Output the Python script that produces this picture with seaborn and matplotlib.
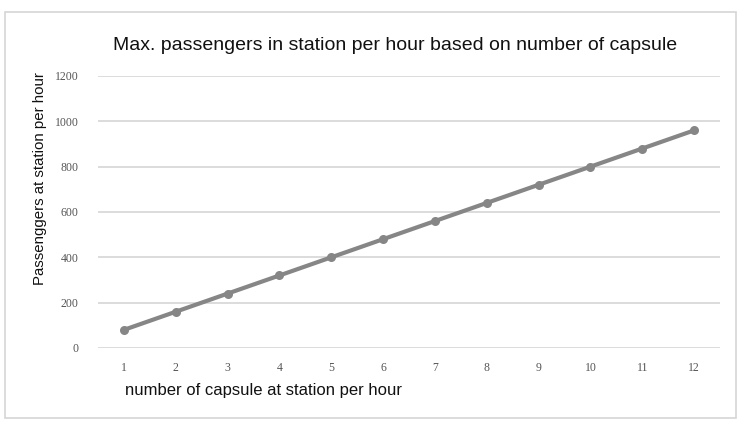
import matplotlib
matplotlib.use("Agg")
import matplotlib.pyplot as plt
from matplotlib.patches import Rectangle
import seaborn as sns
import pandas as pd

capsules = [1, 2, 3, 4, 5, 6, 7, 8, 9, 10, 11, 12]
passengers = [80, 160, 240, 320, 400, 480, 560, 640, 720, 800, 880, 960]
y_ticks = [0, 200, 400, 600, 800, 1000, 1200]

title = "Max. passengers in station per hour based on number of capsule"
x_label = "number of capsule at station per hour"
y_label = "Passenggers at station per hour"

sns.set_theme(style="white")
plt.rcParams["font.family"] = ["Liberation Sans", "DejaVu Sans"]

df = pd.DataFrame({"capsules": capsules, "passengers": passengers})

fig = plt.figure(figsize=(7.39, 4.21), dpi=100)
ax = fig.add_axes([0.1326, 0.1734, 0.8417, 0.6461])

# outer chart frame
fig.patches.append(Rectangle((5 / 739, 3 / 421), 731 / 739, 406 / 421,
                             transform=fig.transFigure, fill=False,
                             edgecolor="#d6d6d6", linewidth=1.2))

sns.lineplot(data=df, x="capsules", y="passengers", ax=ax, color="#868686",
             linewidth=3.0, marker="o", markersize=6.5, markeredgewidth=0,
             zorder=3)

ax.set_xlim(0.5, 12.5)
ax.set_ylim(0, 1200)
ax.set_xticks(capsules)
ax.set_xticklabels([str(c) for c in capsules])
ax.set_yticks(y_ticks)
ax.set_yticklabels([str(v) for v in y_ticks])
ax.tick_params(axis="both", length=0, labelsize=8.5, labelcolor="#555555")
for lbl in ax.get_xticklabels() + ax.get_yticklabels():
    lbl.set_family(["Liberation Serif", "DejaVu Serif"])
ax.tick_params(axis="x", pad=10)
ax.tick_params(axis="y", pad=14)

ax.yaxis.grid(True, color="#d9d9d9", linewidth=1.3)
ax.xaxis.grid(False)
for s in ax.spines.values():
    s.set_visible(False)

ax.set_xlabel("")
ax.set_ylabel("")
fig.text(125 / 739, 1 - 390 / 421, x_label, fontsize=12, color="#111111",
         ha="left", va="center")
fig.text(40 / 739, 1 - 179 / 421, y_label, fontsize=10.8, color="#111111",
         ha="center", va="center", rotation=90)
fig.text(395 / 739, 1 - 45 / 421, title, fontsize=14, color="#111111",
         ha="center", va="center")

fig.savefig("out.png", dpi=100)
